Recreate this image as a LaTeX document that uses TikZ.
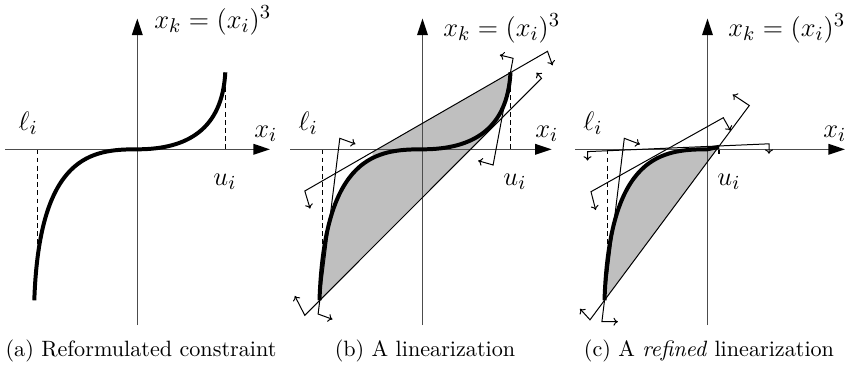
\documentclass[tikz,border=0pt]{standalone}
\usetikzlibrary{arrows.meta}
\begin{document}
\begin{tikzpicture}[x=0.4513pt,y=-0.4513pt,
  axis/.style={draw=black!70, line width=0.7pt, -{Triangle[length=7.5pt,width=4.8pt,color=black]}},
  cut/.style={draw=black, line width=0.45pt, arrows={To[length=2pt,width=3.6pt]-To[length=2pt,width=3.6pt]}},
  curveline/.style={draw=black, line width=1.8pt},
  bound/.style={draw=black, line width=0.5pt, dash pattern=on 2.2pt off 1.5pt},
  shade/.style={fill=black!25},
  lab/.style={font=\fontsize{12.9}{15}\selectfont, anchor=base west, inner sep=0pt},
  captxt/.style={font=\fontsize{10}{12}\selectfont, anchor=base, inner sep=0pt}]
\useasboundingbox (0,0) rectangle (850,369);

% ---------------- panel (a)
\begin{scope}[shift={(137.3,149.3)}, yscale=-1]
  \coordinate (a-xl) at (-132.3,0); \coordinate (a-xr) at (132.7,0);
  \coordinate (a-yb) at (0,-175.7); \coordinate (a-yt) at (0,130.8);
  \coordinate (a-P) at (-103,-151); \coordinate (a-Q) at (88,77);
  \draw[bound] (-100,0) -- (-100,-112);
  \draw[bound] (88,0) -- (88,72);
  \draw[axis] (a-xl) -- (a-xr);
  \draw[axis] (a-yb) -- (a-yt);
  \draw[curveline] (a-P) .. controls (-98,-5) and (-45,0) .. (0,0) .. controls (50,0) and (85,20) .. (a-Q);
  \node[lab] (a-fn) at (16.7,121.3) {$x_k = (x_i)^3$};
  \node[lab] (a-xi) at (116.7,12.3) {$x_i$};
  \node[lab] (a-li) at (-119,19.3) {$\ell_i$};
  \node[lab] (a-ui) at (75.7,-35.7) {$u_i$};
\end{scope}

% ---------------- panel (b)
\begin{scope}[shift={(422.5,149.3)}, yscale=-1]
  \coordinate (b-xl) at (-132.5,0); \coordinate (b-xr) at (129.2,0);
  \coordinate (b-yb) at (0,-175.7); \coordinate (b-yt) at (0,130.8);
  \coordinate (b-P) at (-103,-151); \coordinate (b-Q) at (88,77);
  % cut lines: ends and hooks
  \coordinate (b-Ul) at (-117.7,-41.7); \coordinate (b-Ur) at (125,98);
  \coordinate (b-Ulh) at (-112.4,-59.3); \coordinate (b-Urh) at (130,84);
  \coordinate (b-Ll) at (-117.7,-166); \coordinate (b-Lr) at (119,71);
  \coordinate (b-Llh) at (-127.7,-146.6); \coordinate (b-Lrh) at (114,76.7);
  \coordinate (b-Rt) at (90.6,91); \coordinate (b-Rb) at (70.6,-15.7);
  \coordinate (b-Rth) at (77.3,94.3); \coordinate (b-Rbh) at (55.6,-11.4);
  \coordinate (b-Tt) at (-82.7,11); \coordinate (b-Tb) at (-104.4,-164.7);
  \coordinate (b-Tth) at (-67,5.3); \coordinate (b-Tbh) at (-90,-170);
  % shaded hull
  \begin{scope}
    \clip (b-Ul) -- (b-Ur) -- (b-Lr) -- (b-Ll) -- cycle;
    \begin{scope}
      \clip (-200,-300) rectangle (68,300);
      \fill[shade] (b-P) .. controls (-98,-5) and (-45,0) .. (0,0) .. controls (50,0) and (85,20) .. (b-Q) -- (88,-300) -- (-103,-300) -- cycle;
    \end{scope}
    \begin{scope}
      \clip (-50,-300) rectangle (200,300);
      \fill[shade] (b-P) .. controls (-98,-5) and (-45,0) .. (0,0) .. controls (50,0) and (85,20) .. (b-Q) -- (88,300) -- (-103,300) -- cycle;
    \end{scope}
  \end{scope}
  \draw[bound] (-100,0) -- (-100,-112);
  \draw[bound] (88,0) -- (88,72);
  \draw[axis] (b-xl) -- (b-xr);
  \draw[axis] (b-yb) -- (b-yt);
  \draw[cut] (b-Ulh) -- (b-Ul) -- (b-Ur) -- (b-Urh);
  \draw[cut] (b-Llh) -- (b-Ll) -- (b-Lr) -- (b-Lrh);
  \draw[cut] (b-Rth) -- (b-Rt) -- (b-Rb) -- (b-Rbh);
  \draw[cut] (b-Tth) -- (b-Tt) -- (b-Tb) -- (b-Tbh);
  \draw[curveline] (b-P) .. controls (-98,-5) and (-45,0) .. (0,0) .. controls (50,0) and (85,20) .. (b-Q);
  \node[lab] (b-fn) at (20.5,113.3) {$x_k = (x_i)^3$};
  \node[lab] (b-xi) at (112.5,12.3) {$x_i$};
  \node[lab] (b-li) at (-124.2,19.3) {$\ell_i$};
  \node[lab] (b-ui) at (80.5,-35.7) {$u_i$};
\end{scope}

% ---------------- panel (c)
\begin{scope}[shift={(707.5,149.3)}, yscale=-1]
  \coordinate (c-xl) at (-132.5,0); \coordinate (c-xr) at (137.5,0);
  \coordinate (c-yb) at (0,-175.7); \coordinate (c-yt) at (0,130.8);
  \coordinate (c-P) at (-103,-151); \coordinate (c-Q) at (11.5,2.5);
  \coordinate (c-Hl) at (-120,-2.3); \coordinate (c-Hr) at (61.5,5.5);
  \coordinate (c-Hlh) at (-120,-11.3); \coordinate (c-Hrh) at (61.5,-4.5);
  \coordinate (c-Ul) at (-116.5,-42.4); \coordinate (c-Ur) at (15.8,31.6);
  \coordinate (c-Ulh) at (-111.8,-60.7); \coordinate (c-Urh) at (23.1,18.6);
  \coordinate (c-Tt) at (-83.2,11); \coordinate (c-Tb) at (-105.6,-172.4);
  \coordinate (c-Tth) at (-67.5,5); \coordinate (c-Tbh) at (-89.6,-172.4);
  \coordinate (c-Sb) at (-117.5,-170.5); \coordinate (c-St) at (41.8,43.8);
  \coordinate (c-Sbh) at (-127.5,-159.5); \coordinate (c-Sth) at (25.2,54.8);
  \fill[shade] (c-P) .. controls (-98,-5) and (-45,0) .. (0,0) -- (c-Q) -- cycle;
  \draw[bound] (-100,0) -- (-100,-112);
  \draw[bound] (11.5,0) -- (11.5,-6);
  \draw[axis] (c-xl) -- (c-xr);
  \draw[axis] (c-yb) -- (c-yt);
  \draw[cut] (c-Hlh) -- (c-Hl) -- (c-Hr) -- (c-Hrh);
  \draw[cut] (c-Ulh) -- (c-Ul) -- (c-Ur) -- (c-Urh);
  \draw[cut] (c-Tth) -- (c-Tt) -- (c-Tb) -- (c-Tbh);
  \draw[cut] (c-Sbh) -- (c-Sb) -- (c-St) -- (c-Sth);
  \draw[curveline] (c-P) .. controls (-98,-5) and (-45,0) .. (0,0) -- (c-Q);
  \node[lab] (c-fn) at (20.5,113.3) {$x_k = (x_i)^3$};
  \node[lab] (c-xi) at (115.5,12.3) {$x_i$};
  \node[lab] (c-li) at (-124.5,19.3) {$\ell_i$};
  \node[lab] (c-ui) at (9.5,-35.7) {$u_i$};
\end{scope}

% ---------------- captions
\node[captxt] (capa) at (141,356.5) {(a) Reformulated constraint};
\node[captxt] (capb) at (425,356.5) {(b) A linearization};
\node[captxt] (capc) at (709,356.5) {(c) A \textit{refined} linearization};
\end{tikzpicture}
\end{document}
